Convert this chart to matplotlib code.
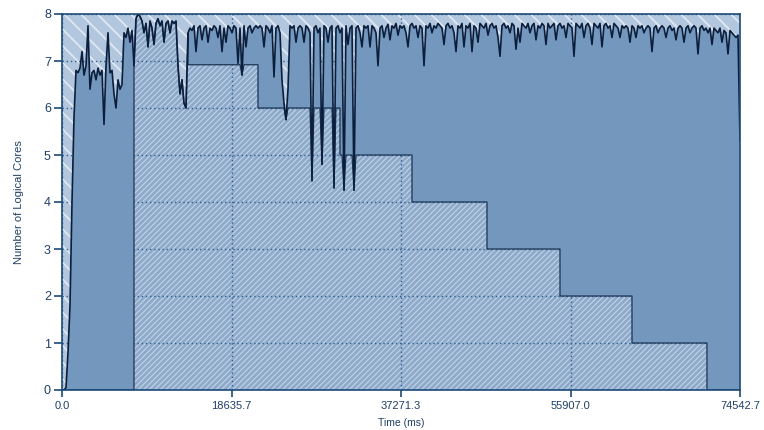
import numpy as np
import matplotlib
matplotlib.use("Agg")
import matplotlib.pyplot as plt
from matplotlib.patches import Rectangle

# ---------------- data ----------------
total_ms = 74542.7
sample_interval_ms = 219.89  # CPU usage sample interval

cpu_cores = [
    0.0, 0.0, 0.05, 0.8, 1.8, 4.0, 5.8, 6.8, 6.75, 6.85,
    7.2, 6.7, 6.9, 7.75, 6.4, 6.75, 6.8, 6.6, 6.85, 6.7,
    6.8, 5.65, 6.9, 7.6, 6.75, 6.8, 6.3, 6.0, 6.6, 6.4,
    6.5, 7.6, 7.5, 7.7, 7.4, 7.65, 6.9, 7.9, 8.0, 7.95,
    7.85, 7.6, 7.8, 7.3, 7.85, 7.7, 7.35, 7.8, 7.9, 7.75,
    7.85, 7.4, 7.8, 7.85, 7.6, 7.85, 7.8, 7.85, 6.9, 6.3,
    6.6, 6.1, 6.0, 7.6, 7.7, 7.65, 7.75, 7.2, 7.7, 7.75,
    7.45, 7.7, 7.75, 7.4, 7.7, 7.65, 7.75, 7.7, 7.5, 7.75,
    7.2, 7.7, 7.4, 7.75, 7.7, 7.6, 7.75, 7.7, 6.95, 7.7,
    6.7, 7.75, 7.3, 7.7, 7.75, 7.6, 7.7, 7.75, 7.7, 7.75,
    7.7, 7.3, 7.75, 7.7, 7.6, 7.75, 6.66, 7.7, 7.75, 7.6,
    6.6, 6.1, 5.75, 6.4, 7.75, 7.7, 7.75, 7.4, 7.7, 7.75,
    7.7, 7.4, 7.75, 7.7, 7.6, 4.45, 7.7, 7.75, 7.6, 7.7,
    4.8, 7.75, 7.7, 7.4, 7.7, 7.75, 4.3, 7.7, 7.75, 7.6,
    7.7, 4.25, 7.75, 7.35, 7.7, 7.75, 4.25, 7.7, 7.75, 7.6,
    7.3, 7.75, 7.7, 7.75, 7.3, 7.75, 7.7, 7.6, 6.9, 7.7,
    7.75, 7.5, 7.7, 7.78, 7.45, 7.75, 7.7, 7.8, 7.55, 7.75,
    7.7, 7.75, 7.6, 7.3, 7.75, 7.8, 7.7, 7.75, 7.5, 7.75,
    7.7, 6.9, 7.75, 7.7, 7.8, 7.6, 7.75, 7.7, 7.8, 7.75,
    7.7, 7.35, 7.75, 7.8, 7.7, 7.75, 7.6, 7.2, 7.75, 7.7,
    7.8, 7.3, 7.75, 7.7, 7.8, 7.2, 7.75, 7.7, 7.4, 7.8,
    7.75, 7.7, 7.8, 7.55, 7.75, 7.8, 7.7, 7.75, 7.5, 7.1,
    7.75, 7.8, 7.7, 7.75, 7.6, 7.8, 7.75, 7.25, 7.7, 7.4,
    7.8, 7.75, 7.7, 7.8, 7.6, 7.75, 7.8, 7.45, 7.75, 7.7,
    7.8, 7.75, 7.35, 7.8, 7.7, 7.75, 7.8, 7.45, 7.75, 7.8,
    7.7, 7.75, 7.5, 7.8, 7.75, 7.7, 7.1, 7.8, 7.75, 7.7,
    7.8, 7.5, 7.75, 7.8, 7.7, 7.35, 7.8, 7.75, 7.7, 7.8,
    7.3, 7.75, 7.8, 7.7, 7.75, 7.5, 7.8, 7.75, 7.7, 7.5,
    7.75, 7.7, 7.75, 7.7, 7.4, 7.75, 7.7, 7.5, 7.75, 7.7,
    7.75, 7.6, 7.7, 7.75, 7.7, 7.2, 7.7, 7.75, 7.6, 7.7,
    7.75, 7.7, 7.5, 7.7, 7.75, 7.65, 7.7, 7.45, 7.7, 7.75,
    7.7, 7.4, 7.7, 7.75, 7.6, 7.7, 7.75, 7.7, 7.15, 7.7,
    7.75, 7.65, 7.7, 7.6, 7.7, 7.35, 7.7, 7.65, 7.6, 7.7,
    7.4, 7.65, 7.6, 7.15, 7.65, 7.6, 7.55, 7.5, 7.55, 5.3,
]

# staircase (threads) : step edges in ms and level in each interval
step_edges_ms = [7916, 13852, 21548, 30563, 38479, 46725, 54750, 62666, 70911]
step_levels = [8.0, 6.92, 6.0, 5.0, 4.0, 3.0, 2.0, 1.0]

x_tick_labels = ["0.0", "18635.7", "37271.3", "55907.0", "74542.7"]
y_ticks = [0, 1, 2, 3, 4, 5, 6, 7, 8]

# ---------------- styling ----------------
SOLID = "#7497be"
COARSE_FACE = "#b2c6de"
COARSE_STRIPE = "#dfe8f3"
FINE_FACE = "#8eaacb"
FINE_STRIPE = "#c2d3e6"
LINE = "#0b1f3d"
AXIS = "#1d4a78"
TEXT = "#1f3f66"
GRID = "#2f5f92"

plt.rcParams["font.family"] = ["Liberation Sans", "DejaVu Sans"]
plt.rcParams["hatch.linewidth"] = 1.0

fig = plt.figure(figsize=(7.64, 4.30), dpi=100)
ax = fig.add_axes([62 / 764, 40 / 430, 678 / 764, 376 / 430])

cpu = np.array(cpu_cores)
cpu_t = np.arange(len(cpu)) * sample_interval_ms

edges = np.array(step_edges_ms, dtype=float)
eps = 1e-3
xs = np.unique(np.concatenate([cpu_t, edges, edges - eps]))
xs = xs[(xs >= 0) & (xs <= cpu_t[-1])]
cpu_i = np.interp(xs, cpu_t, cpu)
idx = np.searchsorted(edges, xs, side="right") - 1
stair = np.zeros_like(xs)
valid = (idx >= 0) & (idx < len(step_levels))
stair[valid] = np.array(step_levels)[idx[valid]]
lower = np.minimum(stair, cpu_i)

# background coarse hatch (idle capacity)
bg = Rectangle((0, 0), 1, 1, transform=ax.transAxes, facecolor=COARSE_FACE,
               edgecolor=COARSE_STRIPE, hatch="\\\\", linewidth=0, zorder=0.2)
ax.add_patch(bg)
try:
    bg.set_hatch_linewidth(1.3)
except Exception:
    pass

# staircase fine hatch
fine = ax.fill_between(xs, 0, lower, facecolor=FINE_FACE, edgecolor=FINE_STRIPE,
                       hatch="//////", linewidth=0, zorder=1.0)
try:
    fine.set_hatch_linewidth(0.8)
except Exception:
    pass

# cpu solid fill above staircase
ax.fill_between(xs, lower, cpu_i, facecolor=SOLID, edgecolor="none",
                linewidth=0, zorder=2.0)

# lines
ax.plot(cpu_t, cpu, color=LINE, linewidth=1.2, zorder=3.2)
ax.plot(xs, lower, color="#1b3354", linewidth=0.9, zorder=3.0)

# axes
ax.set_xlim(0, total_ms)
ax.set_ylim(0, 8)
xticks = [i * total_ms / 4 for i in range(5)]
ax.set_xticks(xticks)
ax.set_xticklabels(x_tick_labels)
ax.set_yticks(y_ticks)
ax.set_yticklabels([str(v) for v in y_ticks])

ax.set_axisbelow("line")
ax.grid(True, color=GRID, linestyle=(0, (1, 2)), linewidth=1.0)

for s in ax.spines.values():
    s.set_color(AXIS)
    s.set_linewidth(1.2)
    s.set_zorder(4)

ax.tick_params(axis="x", colors=AXIS, labelcolor=TEXT, labelsize=8,
               length=5, width=1.2, direction="out", pad=3)
ax.tick_params(axis="y", colors=AXIS, labelcolor=TEXT, labelsize=9,
               length=6, width=1.2, direction="out", pad=2)

ax.set_xlabel("Time (ms)", fontsize=7.5, color=TEXT, labelpad=5)
ax.set_ylabel("Number of Logical Cores", fontsize=8.0, color=TEXT, labelpad=14)

fig.savefig("out.png", dpi=100, facecolor="white")
